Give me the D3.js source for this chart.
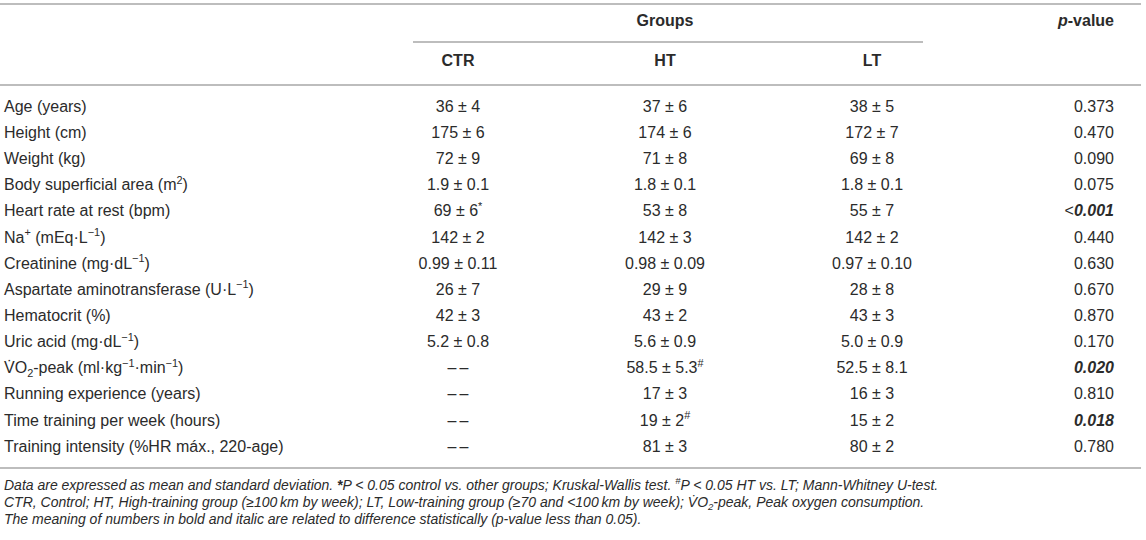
<!DOCTYPE html>
<html>
<head>
<meta charset="utf-8">
<script src="https://cdn.jsdelivr.net/npm/d3@7"></script>
<style>
  body { margin: 0; background: #fff; }
  text { font-family: "Liberation Sans", Arial, Helvetica, sans-serif; fill: #2b2b2b; }
</style>
</head>
<body>
<div id="table_canvas"></div>
<script>
// ----------------------------------------------------------------------
// table content ( ^{..} superscript, _{..} subscript, !{..} bold )

const groupNames = ["CTR", "HT", "LT"];

const variables = [
    "Age (years)",
    "Height (cm)",
    "Weight (kg)",
    "Body superficial area (m^{2})",
    "Heart rate at rest (bpm)",
    "Na^{+} (mEq\u00B7L^{\u22121})",
    "Creatinine (mg\u00B7dL^{\u22121})",
    "Aspartate aminotransferase (U\u00B7L^{\u22121})",
    "Hematocrit (%)",
    "Uric acid (mg\u00B7dL^{\u22121})",
    "V\u0307O_{2}-peak (ml\u00B7kg^{\u22121}\u00B7min^{\u22121})",
    "Running experience (years)",
    "Time training per week (hours)",
    "Training intensity (%HR m\u00E1x., 220-age)"
];

const dash = "\u2013\u2009\u2013";

const ctrValues = ["36 \u00B1 4", "175 \u00B1 6", "72 \u00B1 9", "1.9 \u00B1 0.1", "69 \u00B1 6^{*}", "142 \u00B1 2",
    "0.99 \u00B1 0.11", "26 \u00B1 7", "42 \u00B1 3", "5.2 \u00B1 0.8", dash, dash, dash, dash];

const htValues = ["37 \u00B1 6", "174 \u00B1 6", "71 \u00B1 8", "1.8 \u00B1 0.1", "53 \u00B1 8", "142 \u00B1 3",
    "0.98 \u00B1 0.09", "29 \u00B1 9", "43 \u00B1 2", "5.6 \u00B1 0.9", "58.5 \u00B1 5.3^{#}", "17 \u00B1 3", "19 \u00B1 2^{#}", "81 \u00B1 3"];

const ltValues = ["38 \u00B1 5", "172 \u00B1 7", "69 \u00B1 8", "1.8 \u00B1 0.1", "55 \u00B1 7", "142 \u00B1 2",
    "0.97 \u00B1 0.10", "28 \u00B1 8", "43 \u00B1 3", "5.0 \u00B1 0.9", "52.5 \u00B1 8.1", "16 \u00B1 3", "15 \u00B1 2", "80 \u00B1 2"];

const pValues = ["0.373", "0.470", "0.090", "0.075", "<!{0.001}", "0.440", "0.630", "0.670", "0.870", "0.170",
    "!{0.020}", "0.810", "!{0.018}", "0.780"];

const footnotes = [
    "Data are expressed as mean and standard deviation. !{*}P < 0.05 control vs. other groups; Kruskal-Wallis test. ^{#}P < 0.05 HT vs. LT; Mann-Whitney U-test.",
    "CTR, Control; HT, High-training group (\u2265100\u2009km by week); LT, Low-training group (\u226570 and <100\u2009km by week); V\u0307O_{2}-peak, Peak oxygen consumption.",
    "The meaning of numbers in bold and italic are related to difference statistically (p-value less than 0.05)."
];

// ----------------------------------------------------------------------

const width = 1146;
const height = 540;
const fontSize = 16;

const svg = d3.select("#table_canvas")
    .append("svg")
    .attr("width", width)
    .attr("height", height);

function parseMarkup(str) {
    const parts = str.split(/(\^\{[^}]*\}|_\{[^}]*\}|!\{[^}]*\})/).filter(s => s.length);
    return parts.map(p => {
        if (p.startsWith("^{")) return {text: p.slice(2, -1), shift: 1};
        if (p.startsWith("_{")) return {text: p.slice(2, -1), shift: -1};
        if (p.startsWith("!{")) return {text: p.slice(2, -1), shift: 0, bold: true};
        return {text: p, shift: 0};
    });
}

// text centred on y, with sub/superscript tspans
function richText(sel, str, opts) {
    const o = Object.assign({size: fontSize, italic: false, boldItalic: false}, opts);
    const t = sel.append("text")
        .attr("x", o.x)
        .attr("y", o.y + 0.36 * o.size)
        .attr("text-anchor", o.anchor || "start")
        .style("font-size", o.size + "px")
        .style("font-style", o.italic ? "italic" : "normal")
        .style("font-weight", o.weight || "normal");
    let cur = 0;
    parseMarkup(str).forEach(seg => {
        const target = seg.shift === 1 ? -0.4 * o.size : seg.shift === -1 ? 0.22 * o.size : 0;
        const ts = t.append("tspan").text(seg.text);
        if (target - cur !== 0) ts.attr("dy", target - cur);
        if (seg.shift !== 0) ts.style("font-size", (o.size * 0.68) + "px");
        if (seg.bold) {
            ts.style("font-weight", "bold");
            if (o.boldItalic) ts.style("font-style", "italic");
        }
        cur = target;
    });
    return t;
}

// scales
const rowScale = d3.scaleBand()
    .domain(d3.range(variables.length))
    .range([93, 459]);

const colScale = d3.scalePoint()
    .domain(groupNames)
    .range([458, 872]);

const labelX = 4;
const pRight = 1114;

// rules
const rule = (x1, x2, y) => svg.append("line")
    .attr("x1", x1).attr("x2", x2).attr("y1", y).attr("y2", y)
    .attr("stroke", "#bdbdbd").attr("stroke-width", 2);

rule(0, 1141, 4);
rule(413, 923, 42);
rule(0, 1141, 85);
rule(0, 1141, 468);

// header
richText(svg, "Groups", {x: colScale("HT"), y: 20, anchor: "middle", weight: "bold"});
const pHead = svg.append("text")
    .attr("x", pRight).attr("y", 20 + 0.36 * fontSize)
    .attr("text-anchor", "end")
    .style("font-size", fontSize + "px")
    .style("font-weight", "bold");
pHead.append("tspan").style("font-style", "italic").text("p");
pHead.append("tspan").text("-value");

svg.selectAll(".colhead")
    .data(groupNames)
    .enter()
    .append("text")
    .attr("class", "colhead")
    .attr("x", d => colScale(d))
    .attr("y", 60 + 0.36 * fontSize)
    .attr("text-anchor", "middle")
    .style("font-size", fontSize + "px")
    .style("font-weight", "bold")
    .text(d => d);

// body rows
const columns = [ctrValues, htValues, ltValues];

variables.forEach((label, i) => {
    const cy = rowScale(i) + rowScale.bandwidth() / 2;
    richText(svg, label, {x: labelX, y: cy});
    columns.forEach((vals, j) => {
        richText(svg, vals[i], {x: colScale(groupNames[j]), y: cy, anchor: "middle"});
    });
    richText(svg, pValues[i], {x: pRight, y: cy, anchor: "end", boldItalic: true});
});

// footnotes
footnotes.forEach((f, i) => {
    richText(svg, f, {x: labelX, y: 485 + i * 17, size: 14, italic: true});
});
</script>
</body>
</html>
